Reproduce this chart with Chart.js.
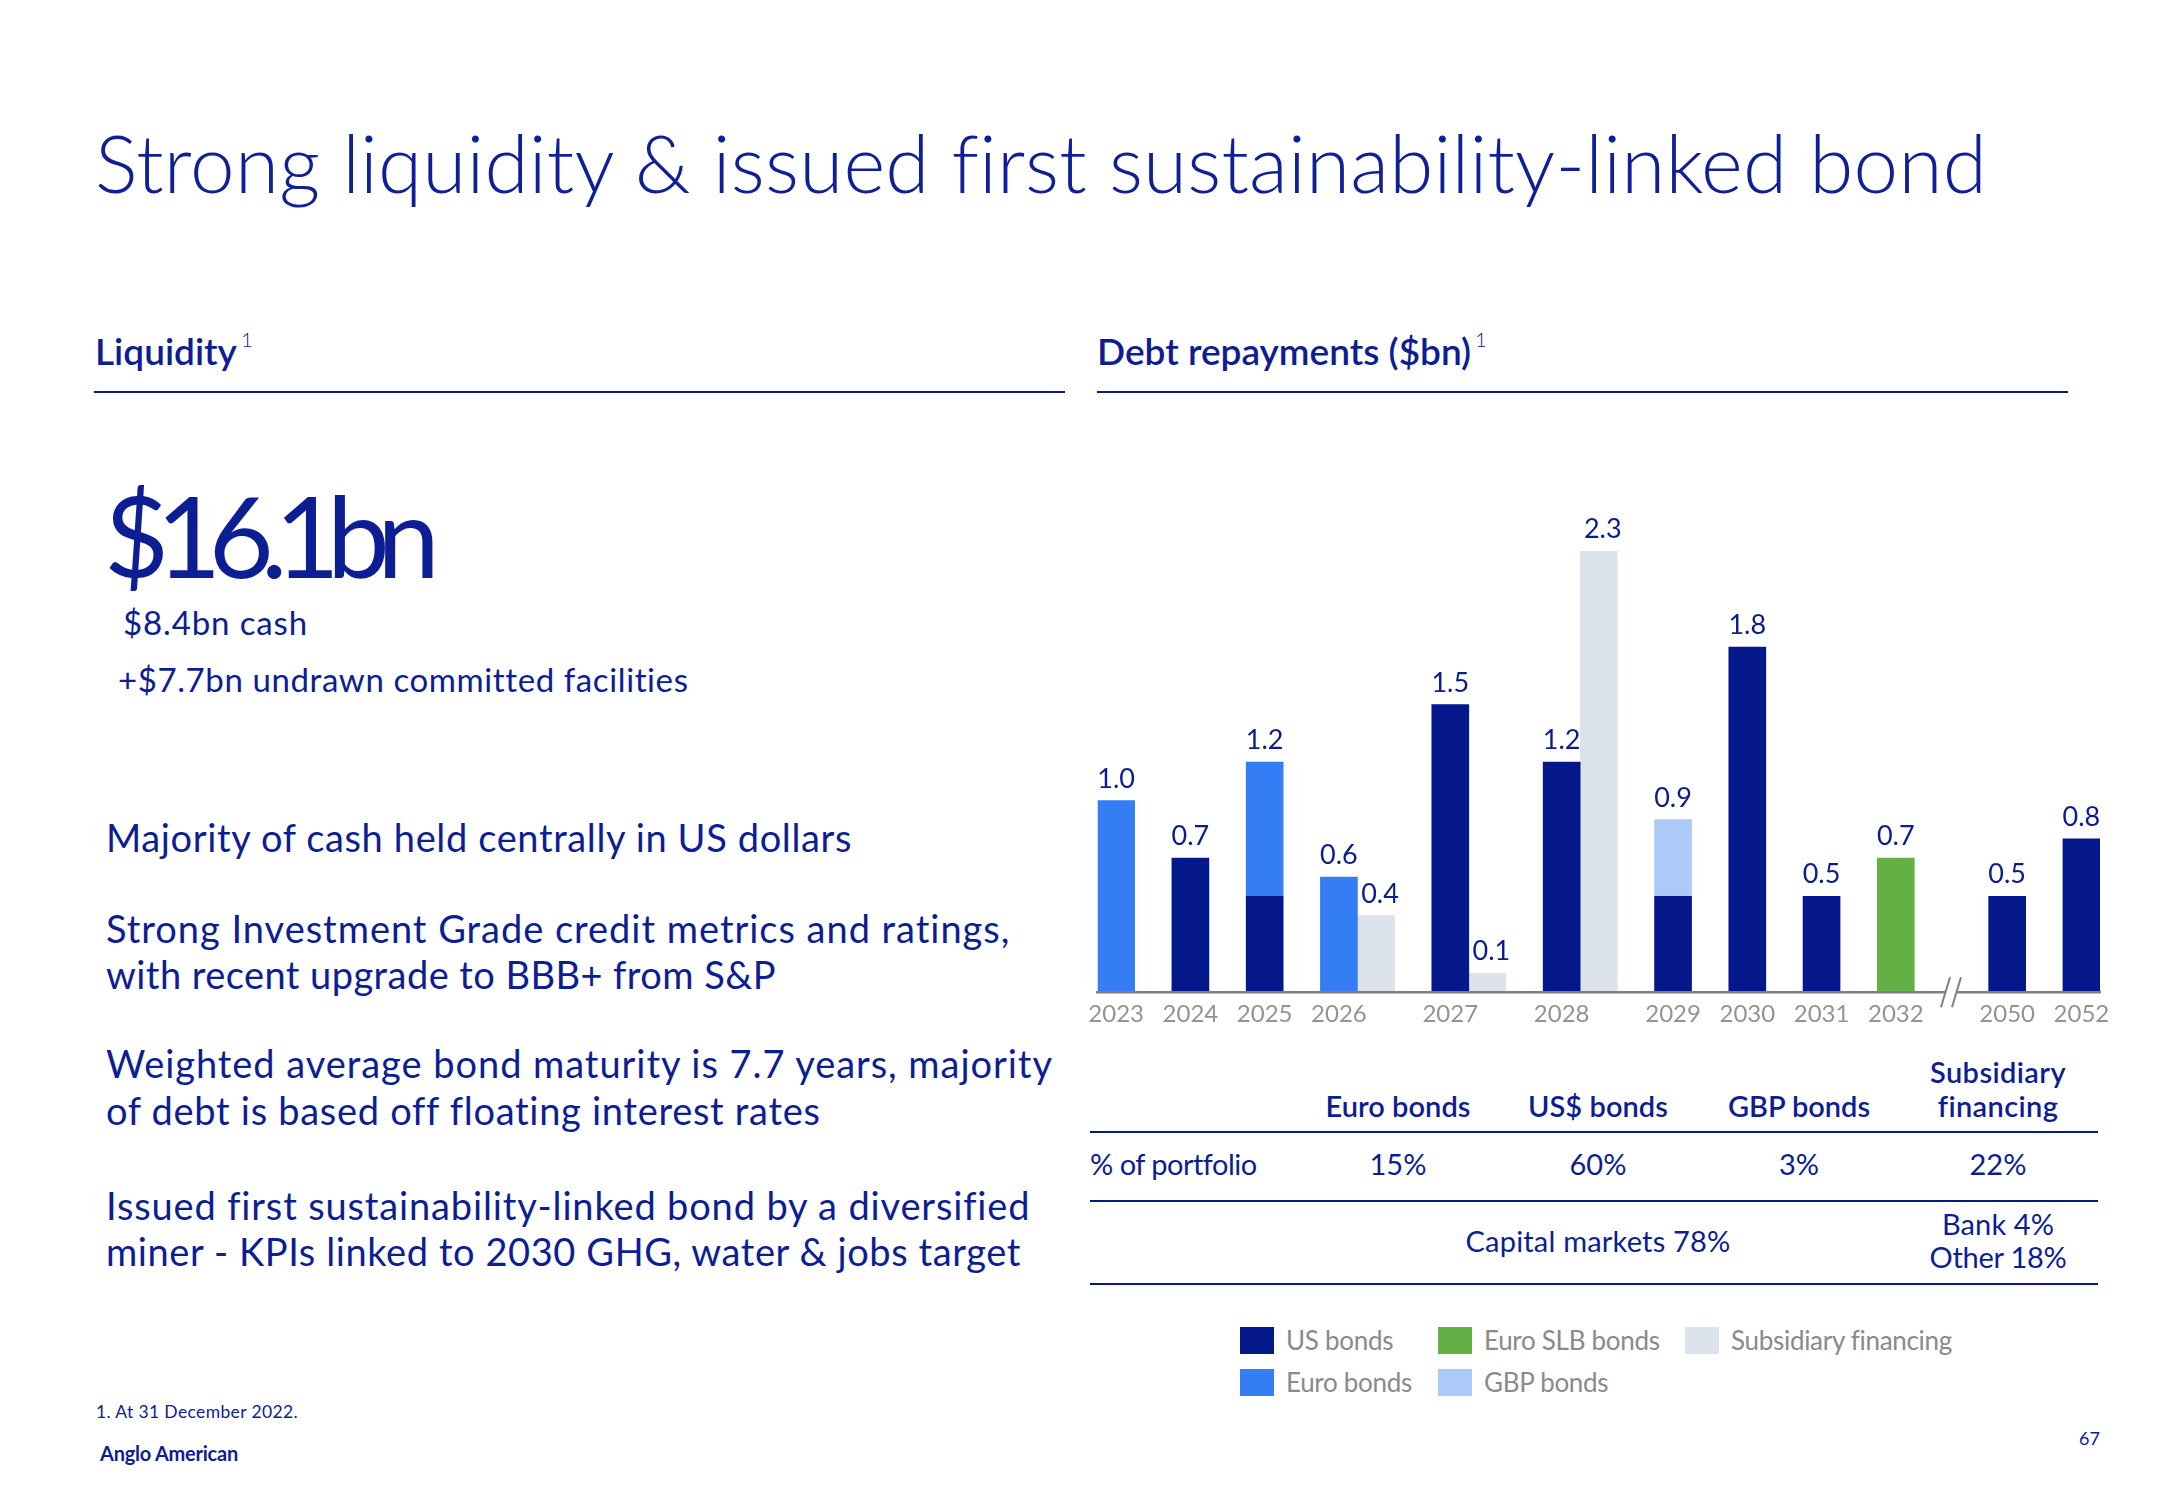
<!DOCTYPE html>
<html>
<head>
<meta charset="utf-8">
<title>Strong liquidity &amp; issued first sustainability-linked bond</title>
<script src="https://cdn.jsdelivr.net/npm/chart.js@4/dist/chart.umd.min.js"></script>
<style>
  html, body { margin: 0; padding: 0; background: #fff; }
  body { width: 2166px; height: 1500px; position: relative; overflow: hidden;
         font-family: Lato, "Noto Sans", sans-serif; color: #0d1d94; }
  .txt { position: absolute; white-space: nowrap; line-height: 1; }
  .rule { position: absolute; height: 2px; background: #0c1a7c; }
  .sup { font-size: 0.55em; font-weight: 300; position: relative; top: -0.9em; margin-left: 4px; }
  #debtChart { position: absolute; left: 1080px; top: 470px; }
  #legend { position: absolute; left: 1240px; top: 1327px; display: grid; grid-auto-flow: column;
            grid-template-rows: 27px 27px; row-gap: 15px; grid-template-columns: 198px 247px auto; }
  .lg-item { display: flex; align-items: center; }
  .lg-box { width: 34px; height: 27px; margin-right: 12px; }
  .lg-text { font-size: 26px; color: #8a8a8a; line-height: 27px; white-space: nowrap; letter-spacing: -0.3px; }
</style>
</head>
<body>
<canvas id="debtChart" width="1040" height="570"></canvas>
<div id="legend"></div>
<script>
// Debt repayments ($bn) by year of maturity
var years        = ["2023", "2024", "2025", "2026", "2027", "2028", "2029", "2030", "2031", "2032", "2050", "2052"];
var usBonds      = [null, 0.7, 0.5, null, 1.5, 1.2, 0.5, 1.8, 0.5, null, 0.5, 0.8];
var euroBonds    = [1.0, null, 0.7, 0.6, null, null, null, null, null, null, null, null];
var euroSlbBonds = [null, null, null, null, null, null, null, null, null, 0.7, null, null];
var gbpBonds     = [null, null, null, null, null, null, 0.4, null, null, null, null, null];
var subsidiary   = [null, null, null, 0.4, 0.1, 2.3, null, null, null, null, null, null];
var axisBreakAfter = "2032";

// % of portfolio table
var portfolioHeads  = ["Euro bonds", "US$ bonds", "GBP bonds"];
var portfolioShares = [15, 60, 3, 22];
var capitalMarkets  = 78;
var bankShare       = 4;
var otherShare      = 18;

var NAVY = "#04178b";

// slot of each year on the x axis: one bar wide (two when a subsidiary bar sits next to it),
// one empty slot between years and one more at the axis break
var slots = [];
years.forEach(function (yr, i) {
    if (i === 0) { slots.push(0); return; }
    var prevWidth = subsidiary[i - 1] !== null ? 2 : 1;
    var brk = years[i - 1] === axisBreakAfter ? 1 : 0;
    slots.push(slots[i - 1] + prevWidth + 1 + brk);
});

function series(values, offset) {
    return values.map(function (v, i) { return { x: slots[i] + offset, y: v }; })
                 .filter(function (p) { return p.y !== null; });
}

// value labels above each bar / stack
var barLabels = {
    id: "barLabels",
    afterDatasetsDraw: function (chart) {
        var ctx = chart.ctx, xs = chart.scales.x, ys = chart.scales.y;
        ctx.save();
        ctx.font = "400 27px Lato";
        ctx.fillStyle = "#0a1c8e";
        ctx.textAlign = "center";
        ctx.textBaseline = "alphabetic";
        years.forEach(function (yr, i) {
            var total = [usBonds, euroBonds, euroSlbBonds, gbpBonds].reduce(function (s, arr) {
                return s + (arr[i] || 0);
            }, 0);
            if (total > 0) {
                ctx.fillText(total.toFixed(1), xs.getPixelForValue(slots[i]), ys.getPixelForValue(total) - 13);
            }
            if (subsidiary[i] !== null) {
                ctx.fillText(subsidiary[i].toFixed(1), xs.getPixelForValue(slots[i] + 1) + 4, ys.getPixelForValue(subsidiary[i]) - 13);
            }
        });
        ctx.restore();
    }
};

// the // mark where the axis jumps from 2032 to 2050
var axisBreak = {
    id: "axisBreak",
    afterDraw: function (chart) {
        var ctx = chart.ctx, xs = chart.scales.x;
        var i = years.indexOf(axisBreakAfter);
        var px = xs.getPixelForValue((slots[i] + slots[i + 1]) / 2);
        var py = chart.chartArea.bottom;
        ctx.save();
        ctx.fillStyle = "#ffffff";
        ctx.fillRect(px - 6.5, py - 3, 12, 6);
        ctx.strokeStyle = "#808080";
        ctx.lineWidth = 2;
        [-10.5, 0.5].forEach(function (dx) {
            ctx.beginPath();
            ctx.moveTo(px + dx, py + 15);
            ctx.lineTo(px + dx + 9, py - 15);
            ctx.stroke();
        });
        ctx.restore();
    }
};

Chart.defaults.font.family = "Lato";

var chart = new Chart("debtChart", {
    type: "bar",
    data: {
        datasets: [
            { label: "US bonds", data: series(usBonds, 0), backgroundColor: NAVY, stack: "main" },
            { label: "Euro bonds", data: series(euroBonds, 0), backgroundColor: "#347df4", stack: "main" },
            { label: "Euro SLB bonds", data: series(euroSlbBonds, 0), backgroundColor: "#63b044", stack: "main" },
            { label: "GBP bonds", data: series(gbpBonds, 0), backgroundColor: "#adc9f7", stack: "main" },
            { label: "Subsidiary financing", data: series(subsidiary, 1), backgroundColor: "#dce3ed", stack: "sub" }
        ]
    },
    options: {
        responsive: false,
        animation: false,
        devicePixelRatio: 1,
        layout: { padding: { left: 17, right: 20, top: 43, bottom: 3 } },
        datasets: { bar: { barThickness: 37, grouped: false, borderWidth: 0 } },
        plugins: { legend: { display: false }, tooltip: { enabled: false } },
        scales: {
            x: {
                type: "linear",
                offset: false,
                stacked: true,
                min: -0.5,
                max: slots[slots.length - 1] + 0.5,
                grid: { display: false, drawTicks: false },
                border: { display: true, color: "#808080", width: 2.5, z: 1 },
                afterBuildTicks: function (axis) {
                    axis.ticks = slots.map(function (v) { return { value: v }; });
                },
                ticks: {
                    autoSkip: false,
                    maxRotation: 0,
                    padding: 8,
                    color: "#939393",
                    font: { size: 24 },
                    callback: function (v, i) { return years[i]; }
                }
            },
            y: { display: false, stacked: true, min: 0, max: 2.5 }
        }
    },
    plugins: [barLabels, axisBreak]
});

// HTML legend, two rows filled column by column
var legendBox = document.getElementById("legend");
chart.data.datasets.forEach(function (ds) {
    var item = document.createElement("div");
    item.className = "lg-item";
    item.innerHTML = '<span class="lg-box" style="background:' + ds.backgroundColor + '"></span>' +
                     '<span class="lg-text">' + ds.label + '</span>';
    legendBox.appendChild(item);
});

// slide text
var fitList = [];
function addText(html, x, base, size, opts) {
    opts = opts || {};
    var el = document.createElement("div");
    el.className = "txt";
    el.innerHTML = html;
    el.style.fontSize = size + "px";
    el.style.fontWeight = opts.weight || 400;
    el.style.top = (base - 0.887 * size) + "px";
    el.style.left = x + "px";
    if (opts.color) el.style.color = opts.color;
    if (opts.center) el.style.transform = "translateX(-50%)";
    document.body.appendChild(el);
    if (opts.w) fitList.push([el, opts.w]);
    return el;
}
function addRule(x, y, w) {
    var el = document.createElement("div");
    el.className = "rule";
    el.style.left = x + "px";
    el.style.top = y + "px";
    el.style.width = w + "px";
    document.body.appendChild(el);
}

addText("Strong liquidity &amp; issued first sustainability-linked bond", 95, 193, 80, { weight: 300, w: 1890, color: "#0f1f98" });

addText('Liquidity<span class="sup">1</span>', 95, 365, 37, { weight: 600 });
addText('Debt repayments ($bn)<span class="sup">1</span>', 1097, 365, 37, { weight: 600 });
addRule(94, 391, 971);
addRule(1097, 391, 971);

addText("$16.1bn", 104, 578, 112, { weight: 400, w: 323 });
addText("$8.4bn cash", 123, 635, 33, { w: 185 });
addText("+$7.7bn undrawn committed facilities", 118, 692, 33, { w: 570 });

addText("Majority of cash held centrally in US dollars", 106, 852, 38, { w: 746 });
addText("Strong Investment Grade credit metrics and ratings,", 106, 943, 38, { w: 905 });
addText("with recent upgrade to BBB+ from S&amp;P", 106, 989, 38, { w: 670 });
addText("Weighted average bond maturity is 7.7 years, majority", 106, 1078, 38, { w: 947 });
addText("of debt is based off floating interest rates", 106, 1125, 38, { w: 714 });
addText("Issued first sustainability-linked bond by a diversified", 106, 1220, 38, { w: 923 });
addText("miner - KPIs linked to 2030 GHG, water &amp; jobs target", 106, 1266, 38, { w: 915 });

addText("1. At 31 December 2022.", 96, 1419, 17.5, { w: 202 });
addText("Anglo American", 100, 1461, 20, { weight: 700, w: 138 });
addText("67", 2079, 1445, 18);

// portfolio table
var colX = [1398, 1598, 1799, 1998];
var headW = [145, 140, 142];
portfolioHeads.forEach(function (h, i) {
    addText(h, colX[i], 1117, 29, { weight: 600, center: true, w: headW[i] });
});
addText("Subsidiary", colX[3], 1083, 29, { weight: 600, center: true, w: 136 });
addText("financing", colX[3], 1117, 29, { weight: 600, center: true, w: 120 });
addRule(1090, 1131, 1008);
addText("% of portfolio", 1090, 1175, 29, { w: 166 });
portfolioShares.forEach(function (s, i) {
    addText(s + "%", colX[i], 1175, 29, { center: true });
});
addRule(1090, 1200, 1008);
addText("Capital markets " + capitalMarkets + "%", colX[1], 1252, 29, { center: true, w: 265 });
addText("Bank " + bankShare + "%", colX[3], 1235, 29, { center: true, w: 112 });
addText("Other " + otherShare + "%", colX[3], 1268, 29, { center: true, w: 137 });
addRule(1090, 1283, 1008);

// squeeze / stretch letter spacing so each line keeps the slide's width
document.fonts.ready.then(function () {
    fitList.forEach(function (f) {
        var el = f[0], target = f[1];
        var w = el.getBoundingClientRect().width;
        var n = el.textContent.length;
        el.style.letterSpacing = ((target - w) / n) + "px";
    });
});
</script>
</body>
</html>
